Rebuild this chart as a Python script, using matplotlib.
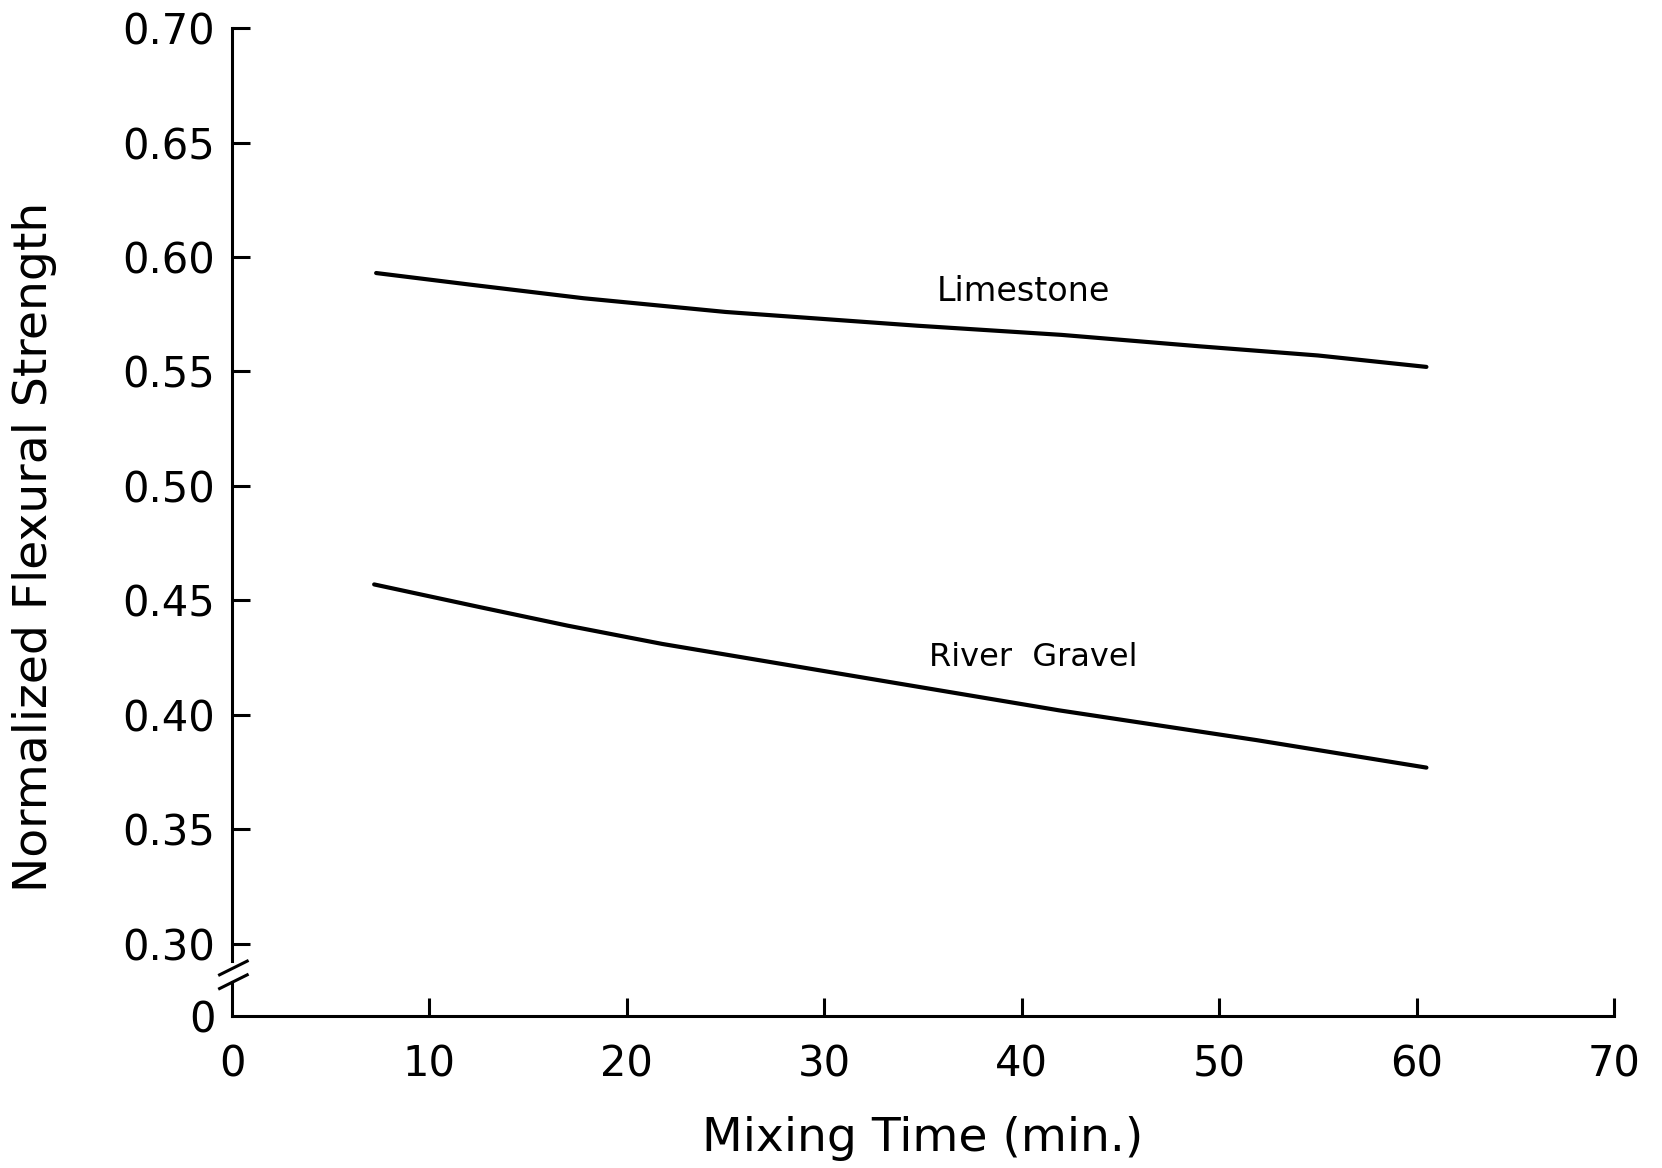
import numpy as np
import matplotlib.pyplot as plt
from matplotlib import transforms

# Data
limestone_t = [7.3, 12.0, 17.8, 25.0, 34.7, 42.0, 49.0, 55.0, 60.5]
limestone_s = [0.593, 0.588, 0.582, 0.576, 0.570, 0.566, 0.561, 0.557, 0.552]
gravel_t = [7.2, 12.6, 17.0, 21.8, 30.8, 41.9, 51.9, 60.5]
gravel_s = [0.457, 0.447, 0.439, 0.431, 0.418, 0.402, 0.389, 0.377]

x_ticks = [0, 10, 20, 30, 40, 50, 60, 70]
y_ticks = [0.30, 0.35, 0.40, 0.45, 0.50, 0.55, 0.60, 0.65, 0.70]
y_zero = 0.2685  # where the "0" sits below the axis break

plt.rcParams['font.family'] = ['DejaVu Sans']

fig = plt.figure(figsize=(16.62, 11.68), dpi=100)
ax = fig.add_axes([0.1396, 0.1301, 0.8315, 0.8459])

lw_axis = 2.2
ax.plot(limestone_t, limestone_s, color='black', lw=3.0, solid_capstyle='round')
ax.plot(gravel_t, gravel_s, color='black', lw=3.0, solid_capstyle='round')

ax.text(40.1, 0.585, 'Limestone', fontsize=24, ha='center', va='center')
ax.text(40.6, 0.4252, 'River  Gravel', fontsize=23, ha='center', va='center')

ax.set_xlim(0, 70)
ax.set_ylim(y_zero, 0.70)
ax.set_xticks(x_ticks)
ax.set_xticklabels([str(v) for v in x_ticks])
ax.set_yticks([y_zero] + y_ticks)
ax.set_yticklabels(['0'] + ['%.2f' % v for v in y_ticks])

for s in ['top', 'right']:
    ax.spines[s].set_visible(False)
ax.spines['bottom'].set_linewidth(lw_axis)
ax.spines['left'].set_linewidth(lw_axis)
ax.spines['left'].set_bounds(0.2925, 0.70)

ax.tick_params(axis='both', direction='in', length=13, width=lw_axis, labelsize=30)
ax.tick_params(axis='x', pad=20)
ax.tick_params(axis='y', pad=12)
ax.yaxis.get_major_ticks()[0].tick1line.set_visible(False)
ax.xaxis.get_major_ticks()[0].tick1line.set_visible(False)

# lower piece of the y axis and break marks
trans = transforms.blended_transform_factory(ax.transAxes, ax.transData)
ax.plot([0, 0], [y_zero, 0.2835], transform=trans, color='black', lw=lw_axis, clip_on=False)
for yb in [0.2895, 0.2835]:
    ax.plot([-0.009, 0.011], [yb - 0.0030, yb + 0.0030], transform=trans,
            color='black', lw=lw_axis, clip_on=False)

ax.set_xlabel('Mixing Time (min.)', fontsize=34, labelpad=22)
ax.set_ylabel('Normalized Flexural Strength', fontsize=34)
ax.yaxis.set_label_coords(-0.127, 0.475)

fig.savefig('out.png', dpi=100)
